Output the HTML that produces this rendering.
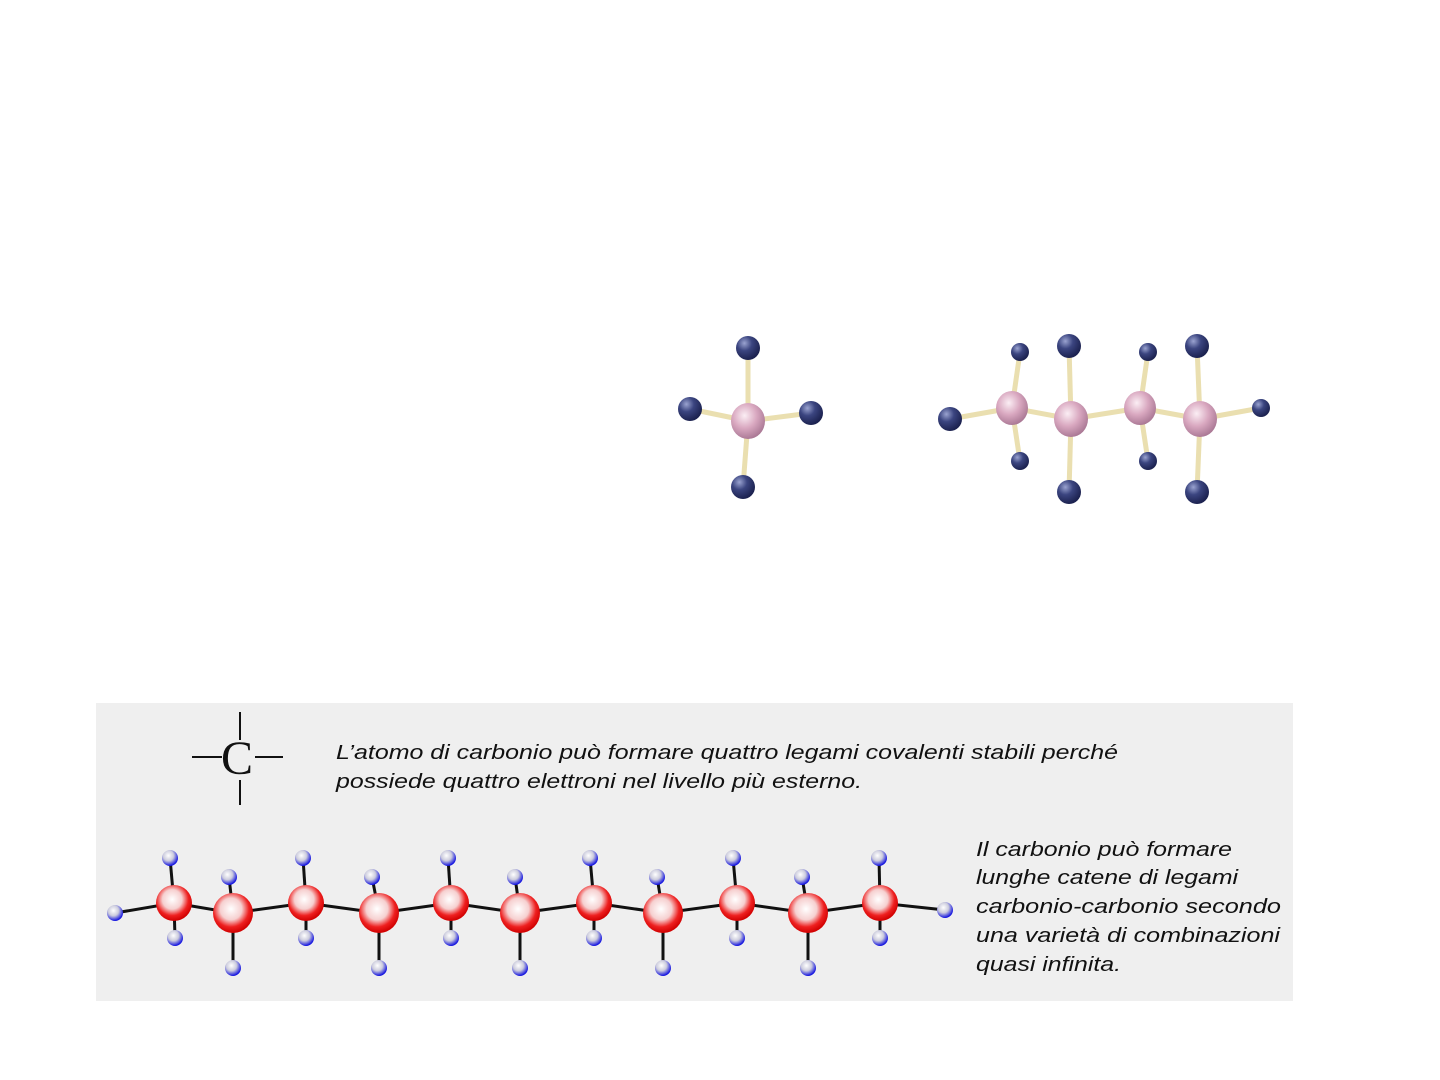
<!DOCTYPE html>
<html><head><meta charset="utf-8"><style>
html,body{margin:0;padding:0;background:#fff;width:1440px;height:1080px;overflow:hidden}
</style></head><body>
<svg width="1440" height="1080" xmlns="http://www.w3.org/2000/svg">
<defs>
<radialGradient id="hb" cx="0.35" cy="0.3" r="0.7"><stop offset="0" stop-color="#9aa3d0"/><stop offset="0.45" stop-color="#3b4580"/><stop offset="1" stop-color="#1c2250"/></radialGradient>
<radialGradient id="cp" cx="0.4" cy="0.35" r="0.7"><stop offset="0" stop-color="#fbeef4"/><stop offset="0.5" stop-color="#d9a8c0"/><stop offset="1" stop-color="#a57390"/></radialGradient>
<radialGradient id="cr" cx="0.45" cy="0.4" r="0.6"><stop offset="0" stop-color="#fff"/><stop offset="0.45" stop-color="#f6d0d0"/><stop offset="0.75" stop-color="#ee2020"/><stop offset="1" stop-color="#d00000"/></radialGradient>
<radialGradient id="hw" cx="0.4" cy="0.35" r="0.65"><stop offset="0" stop-color="#fff"/><stop offset="0.5" stop-color="#ccd"/><stop offset="1" stop-color="#1010e0"/></radialGradient>
</defs>
<g stroke="#eadfb0" stroke-width="5">
<line x1="748" y1="421" x2="748" y2="348"/><line x1="748" y1="421" x2="690" y2="409"/>
<line x1="748" y1="421" x2="811" y2="413"/><line x1="748" y1="421" x2="743" y2="487"/>
</g>
<circle cx="748" cy="348" r="12" fill="url(#hb)"/><circle cx="690" cy="409" r="12" fill="url(#hb)"/>
<circle cx="811" cy="413" r="12" fill="url(#hb)"/><circle cx="743" cy="487" r="12" fill="url(#hb)"/>
<ellipse cx="748" cy="421" rx="17" ry="18" fill="url(#cp)"/>
<g stroke="#eadfb0" stroke-width="5">
<line x1="950" y1="419" x2="1012" y2="408"/><line x1="1012" y1="408" x2="1071" y2="419"/>
<line x1="1071" y1="419" x2="1140" y2="408"/><line x1="1140" y1="408" x2="1200" y2="419"/>
<line x1="1200" y1="419" x2="1261" y2="408"/>
<line x1="1012" y1="408" x2="1020" y2="352"/><line x1="1012" y1="408" x2="1020" y2="461"/>
<line x1="1071" y1="419" x2="1069" y2="346"/><line x1="1071" y1="419" x2="1069" y2="492"/>
<line x1="1140" y1="408" x2="1148" y2="352"/><line x1="1140" y1="408" x2="1148" y2="461"/>
<line x1="1200" y1="419" x2="1197" y2="346"/><line x1="1200" y1="419" x2="1197" y2="492"/>
</g>
<circle cx="950" cy="419" r="12" fill="url(#hb)"/><circle cx="1261" cy="408" r="9" fill="url(#hb)"/>
<circle cx="1020" cy="352" r="9" fill="url(#hb)"/><circle cx="1020" cy="461" r="9" fill="url(#hb)"/>
<circle cx="1148" cy="352" r="9" fill="url(#hb)"/><circle cx="1148" cy="461" r="9" fill="url(#hb)"/>
<circle cx="1069" cy="346" r="12" fill="url(#hb)"/><circle cx="1069" cy="492" r="12" fill="url(#hb)"/>
<circle cx="1197" cy="346" r="12" fill="url(#hb)"/><circle cx="1197" cy="492" r="12" fill="url(#hb)"/>
<ellipse cx="1012" cy="408" rx="16" ry="17" fill="url(#cp)"/><ellipse cx="1071" cy="419" rx="17" ry="18" fill="url(#cp)"/>
<ellipse cx="1140" cy="408" rx="16" ry="17" fill="url(#cp)"/><ellipse cx="1200" cy="419" rx="17" ry="18" fill="url(#cp)"/>
<rect x="96" y="703" width="1197" height="298" fill="#efefef"/>
<g stroke="#111" stroke-width="2">
<line x1="240" y1="712" x2="240" y2="740"/><line x1="240" y1="780" x2="240" y2="805"/>
<line x1="192" y1="757" x2="222" y2="757"/><line x1="255" y1="757" x2="283" y2="757"/>
</g>
<text x="237" y="774" font-family="Liberation Serif, serif" font-size="48" text-anchor="middle" fill="#111">C</text>
<g font-family="Liberation Sans, sans-serif" font-style="italic" font-size="20" fill="#111" lengthAdjust="spacingAndGlyphs">
<text x="336" y="759" textLength="782" lengthAdjust="spacingAndGlyphs">L’atomo di carbonio può formare quattro legami covalenti stabili perché</text>
<text x="336" y="788" textLength="526" lengthAdjust="spacingAndGlyphs">possiede quattro elettroni nel livello più esterno.</text>
<text x="976" y="856" textLength="256" lengthAdjust="spacingAndGlyphs">Il carbonio può formare</text>
<text x="976" y="884" textLength="262" lengthAdjust="spacingAndGlyphs">lunghe catene di legami</text>
<text x="976" y="913" textLength="305" lengthAdjust="spacingAndGlyphs">carbonio-carbonio secondo</text>
<text x="976" y="942" textLength="304" lengthAdjust="spacingAndGlyphs">una varietà di combinazioni</text>
<text x="976" y="971" textLength="145" lengthAdjust="spacingAndGlyphs">quasi infinita.</text>
</g>
<g stroke="#111" stroke-width="3" fill="none">
<polyline points="115,913 174,903 233,913 306,903 379,913 451,903 520,913 594,903 663,913 737,903 808,913 880,903 945,910"/>
<line x1="174" y1="903" x2="170" y2="858"/><line x1="174" y1="903" x2="175" y2="938"/>
<line x1="233" y1="913" x2="229" y2="877"/><line x1="233" y1="913" x2="233" y2="968"/>
<line x1="306" y1="903" x2="303" y2="858"/><line x1="306" y1="903" x2="306" y2="938"/>
<line x1="379" y1="913" x2="372" y2="877"/><line x1="379" y1="913" x2="379" y2="968"/>
<line x1="451" y1="903" x2="448" y2="858"/><line x1="451" y1="903" x2="451" y2="938"/>
<line x1="520" y1="913" x2="515" y2="877"/><line x1="520" y1="913" x2="520" y2="968"/>
<line x1="594" y1="903" x2="590" y2="858"/><line x1="594" y1="903" x2="594" y2="938"/>
<line x1="663" y1="913" x2="657" y2="877"/><line x1="663" y1="913" x2="663" y2="968"/>
<line x1="737" y1="903" x2="733" y2="858"/><line x1="737" y1="903" x2="737" y2="938"/>
<line x1="808" y1="913" x2="802" y2="877"/><line x1="808" y1="913" x2="808" y2="968"/>
<line x1="880" y1="903" x2="879" y2="858"/><line x1="880" y1="903" x2="880" y2="938"/>
</g>
<g fill="url(#hw)">
<circle cx="115" cy="913" r="8"/><circle cx="945" cy="910" r="8"/>
<circle cx="170" cy="858" r="8"/><circle cx="175" cy="938" r="8"/>
<circle cx="229" cy="877" r="8"/><circle cx="233" cy="968" r="8"/>
<circle cx="303" cy="858" r="8"/><circle cx="306" cy="938" r="8"/>
<circle cx="372" cy="877" r="8"/><circle cx="379" cy="968" r="8"/>
<circle cx="448" cy="858" r="8"/><circle cx="451" cy="938" r="8"/>
<circle cx="515" cy="877" r="8"/><circle cx="520" cy="968" r="8"/>
<circle cx="590" cy="858" r="8"/><circle cx="594" cy="938" r="8"/>
<circle cx="657" cy="877" r="8"/><circle cx="663" cy="968" r="8"/>
<circle cx="733" cy="858" r="8"/><circle cx="737" cy="938" r="8"/>
<circle cx="802" cy="877" r="8"/><circle cx="808" cy="968" r="8"/>
<circle cx="879" cy="858" r="8"/><circle cx="880" cy="938" r="8"/>
</g>
<g fill="url(#cr)">
<circle cx="174" cy="903" r="18"/><circle cx="233" cy="913" r="20"/>
<circle cx="306" cy="903" r="18"/><circle cx="379" cy="913" r="20"/>
<circle cx="451" cy="903" r="18"/><circle cx="520" cy="913" r="20"/>
<circle cx="594" cy="903" r="18"/><circle cx="663" cy="913" r="20"/>
<circle cx="737" cy="903" r="18"/><circle cx="808" cy="913" r="20"/>
<circle cx="880" cy="903" r="18"/>
</g>
</svg>
</body></html>
